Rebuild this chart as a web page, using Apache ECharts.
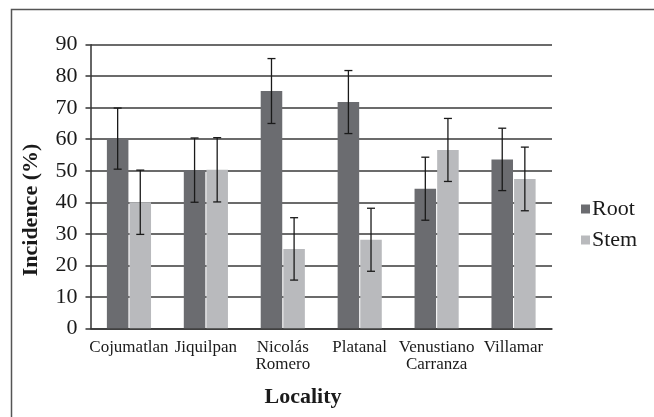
<!DOCTYPE html>
<html>
<head>
<meta charset="utf-8">
<script src="https://cdn.jsdelivr.net/npm/echarts@6/dist/echarts.min.js"></script>
<style>
  html, body { margin: 0; padding: 0; background: #fff; }
  #chart { width: 654px; height: 417px; }
</style>
</head>
<body>
<div id="chart"></div>
<script>
// 地点
const localities = ['Cojumatlan', 'Jiquilpan', 'Nicolás\nRomero', 'Platanal', 'Venustiano\nCarranza', 'Villamar'];
// 发病率 (%)
const rootVals = [60.2, 50.2, 75.3, 71.8, 44.3, 53.6];
const stemVals = [40.0, 50.3, 25.2, 28.1, 56.6, 47.4];
// 误差
const rootErr = [9.7, 10.2, 10.3, 10.0, 10.0, 9.9];
const stemErr = [10.2, 10.2, 9.9, 10.0, 10.0, 10.1];
const yTicks = [0, 10, 20, 30, 40, 50, 60, 70, 80, 90];

const serif = '"Liberation Serif", "DejaVu Serif", serif';
const rootColor = '#6b6c70';
const stemColor = '#b9babd';
const barPct = 0.28, gapPct = 0.05;

function errData(vals, errs) {
  return vals.map((v, i) => [i, v - errs[i], v + errs[i]]);
}

function errRender(sign) {
  return function (params, api) {
    const bandW = api.size([1, 0])[0];
    const barW = bandW * barPct;
    const dx = sign * (barW + barW * gapPct) / 2;
    const lo = api.coord([api.value(0), api.value(1)]);
    const hi = api.coord([api.value(0), api.value(2)]);
    const x = lo[0] + dx;
    const cap = 4;
    const style = { stroke: '#1a1a1a', lineWidth: 1.3 };
    return {
      type: 'group',
      children: [
        { type: 'line', shape: { x1: x, y1: lo[1], x2: x, y2: hi[1] }, style },
        { type: 'line', shape: { x1: x - cap, y1: lo[1], x2: x + cap, y2: lo[1] }, style },
        { type: 'line', shape: { x1: x - cap, y1: hi[1], x2: x + cap, y2: hi[1] }, style }
      ]
    };
  };
}

const chart = echarts.init(document.getElementById('chart'));
const option = {
  animation: false,
  textStyle: { fontFamily: serif },
  grid: { left: 90.5, right: 102, top: 44.7, bottom: 88.7 },
  legend: {
    orient: 'vertical',
    left: 576,
    top: 193,
    itemWidth: 9,
    itemHeight: 9,
    itemGap: 9,
    icon: 'rect',
    textStyle: { fontFamily: serif, fontSize: 22, color: '#1a1a1a', padding: [0, 0, 0, -3] },
    data: ['Root', 'Stem']
  },
  xAxis: {
    type: 'category',
    data: localities,
    axisLine: { lineStyle: { color: '#333', width: 1.5 } },
    axisTick: { show: false },
    axisLabel: { fontFamily: serif, fontSize: 17, color: '#1a1a1a', margin: 11, lineHeight: 17, interval: 0 }
  },
  yAxis: {
    type: 'value',
    min: yTicks[0],
    max: yTicks[yTicks.length - 1],
    interval: 10,
    axisLine: { show: true, lineStyle: { color: '#333', width: 1.5 } },
    axisTick: { show: true, length: 5, lineStyle: { color: '#333', width: 1.5 } },
    axisLabel: { fontFamily: serif, fontSize: 22, color: '#1a1a1a', margin: 13 },
    splitLine: { lineStyle: { color: '#3a3a3a', width: 1.5 } }
  },
  series: [
    { name: 'Root', type: 'bar', data: rootVals, barWidth: (barPct * 100) + '%', barGap: (gapPct * 100) + '%', itemStyle: { color: rootColor } },
    { name: 'Stem', type: 'bar', data: stemVals, barWidth: (barPct * 100) + '%', barGap: (gapPct * 100) + '%', itemStyle: { color: stemColor } },
    { type: 'custom', renderItem: errRender(-1), data: errData(rootVals, rootErr), z: 5, silent: true },
    { type: 'custom', renderItem: errRender(1), data: errData(stemVals, stemErr), z: 5, silent: true }
  ],
  graphic: [
    {
      type: 'rect',
      shape: { x: 11.5, y: 9.5, width: 700, height: 500 },
      style: { fill: 'none', stroke: '#555', lineWidth: 1.5 },
      silent: true
    },
    {
      type: 'text',
      x: 31, y: 210,
      rotation: Math.PI / 2,
      style: { text: 'Incidence (%)', fontFamily: serif, fontSize: 22, fontWeight: 'bold', fill: '#1a1a1a', align: 'center', verticalAlign: 'middle' }
    },
    {
      type: 'text',
      x: 303, y: 397,
      style: { text: 'Locality', fontFamily: serif, fontSize: 22, fontWeight: 'bold', fill: '#1a1a1a', align: 'center', verticalAlign: 'middle' }
    }
  ]
};
chart.setOption(option);
</script>
</body>
</html>
